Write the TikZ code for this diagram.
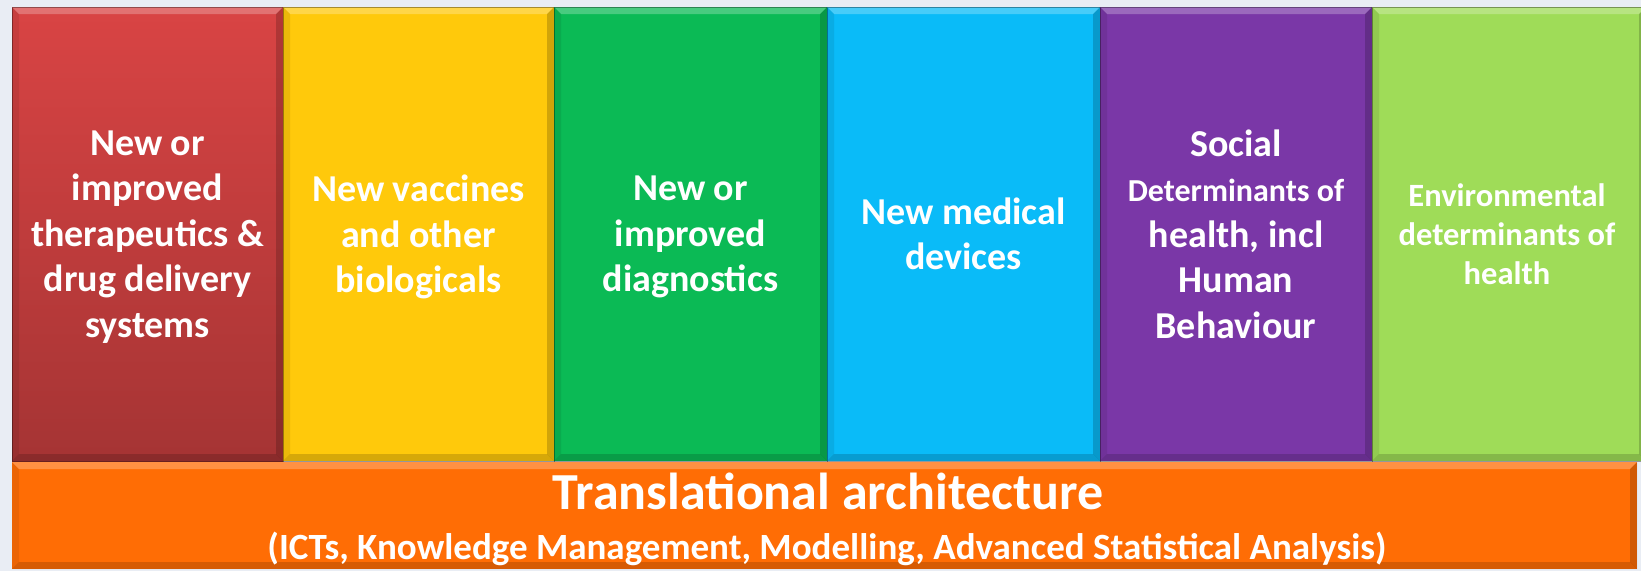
\documentclass[tikz,border=0pt]{standalone}
\usepackage{fontspec}
\setmainfont{Carlito}
\definecolor{bgc}{HTML}{E9EDF4}
\definecolor{cred}{HTML}{D94444}
\definecolor{credb}{HTML}{A53434}
\definecolor{cyel}{HTML}{FFC90B}
\definecolor{cgrn}{HTML}{0BBA55}
\definecolor{cblu}{HTML}{0ABBF8}
\definecolor{cpur}{HTML}{7A37A7}
\definecolor{clgr}{HTML}{9FDC58}
\definecolor{corg}{HTML}{FF6D05}
\tikzset{
  bevel/.style={path picture={
    \fill[white,opacity=.25] (path picture bounding box.north west) -- (path picture bounding box.north east)
      -- ([xshift=-7pt,yshift=-7pt]path picture bounding box.north east) -- ([xshift=7pt,yshift=-7pt]path picture bounding box.north west) -- cycle;
    \fill[black,opacity=.08] (path picture bounding box.north west) -- ([xshift=7pt,yshift=-7pt]path picture bounding box.north west)
      -- ([xshift=7pt,yshift=7pt]path picture bounding box.south west) -- (path picture bounding box.south west) -- cycle;
    \fill[black,opacity=.18] (path picture bounding box.north east) -- ([xshift=-7pt,yshift=-7pt]path picture bounding box.north east)
      -- ([xshift=-7pt,yshift=7pt]path picture bounding box.south east) -- (path picture bounding box.south east) -- cycle;
    \fill[black,opacity=.16] (path picture bounding box.south west) -- ([xshift=7pt,yshift=7pt]path picture bounding box.south west)
      -- ([xshift=-7pt,yshift=7pt]path picture bounding box.south east) -- (path picture bounding box.south east) -- cycle;
  }},
  colbox/.style={rectangle, inner sep=0pt, minimum height=454pt, bevel, draw=black, draw opacity=.35, line width=0.8pt},
  coltext/.style={text=white, align=center, font=\bfseries\fontsize{38}{45.5}\selectfont},
  envtext/.style={text=white, align=center, font=\bfseries\fontsize{32.5}{39}\selectfont}
}
\begin{document}
\begin{tikzpicture}[x=1pt,y=-1pt]
\useasboundingbox (0,0) rectangle (1641,571);
\fill[bgc] (0,0) rectangle (1641,571);
% columns
\node[colbox, minimum width=271pt, top color=cred, bottom color=credb] (c1) at (147.5,234) {};
\node[colbox, minimum width=271pt, fill=cyel] (c2) at (418.5,234) {};
\node[colbox, minimum width=273pt, fill=cgrn] (c3) at (690.5,234) {};
\node[colbox, minimum width=273pt, fill=cblu] (c4) at (963.5,234) {};
\node[colbox, minimum width=272pt, fill=cpur] (c5) at (1236,234) {};
\node[colbox, minimum width=274pt, fill=clgr] (c6) at (1509,234) {};
% bottom bar
\node[rectangle, inner sep=0pt, minimum width=1625pt, minimum height=107pt, fill=corg, bevel] (bar) at (824.5,515.5) {};
% texts
\node[coltext] (t1) at (147.5,237) {New or\\improved\\therapeutics \&\\drug delivery\\systems};
\node[coltext] (t2) at (418.5,237) {New vaccines\\and other\\biologicals};
\node[coltext] (t3) at (690.5,237) {New or\\improved\\diagnostics};
\node[coltext] (t4) at (963.5,234) {New medical\\devices};
\node[coltext] (t5) at (1236,234)
  {Social\\
   {\fontsize{32}{45.5}\selectfont Determinants of}\\
   health, incl\\
   Human\\
   Behaviour};
\node[envtext] (t6) at (1507,234) {Environmental\\determinants of\\health};
\node[text=white, font=\bfseries\fontsize{52}{60}\selectfont] (b1) at (828,491) {Translational architecture};
\node[text=white, font=\bfseries\fontsize{37}{44}\selectfont] (b2) at (827,549) {(ICTs, Knowledge Management, Modelling, Advanced Statistical Analysis)};
\end{tikzpicture}
\end{document}
